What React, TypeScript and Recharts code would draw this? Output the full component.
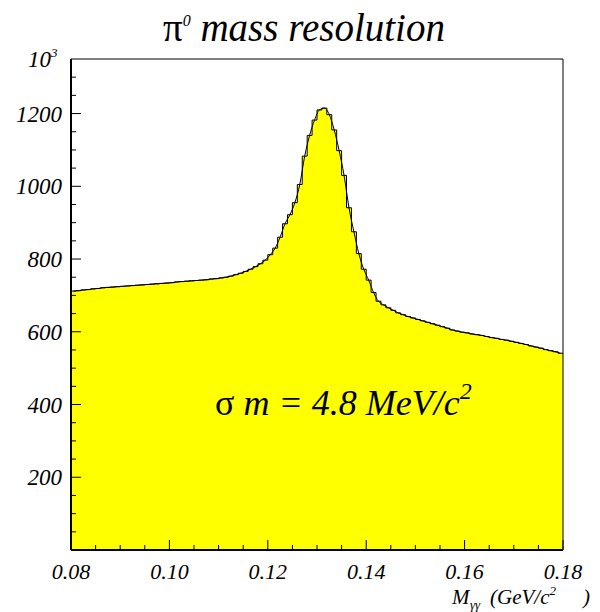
import { Area, ComposedChart, Line, XAxis, YAxis } from "recharts";

// counts per 1 MeV bin, 0.080 .. 0.180 GeV
const counts = [
  712, 713, 715, 716, 718, 719, 721, 722, 723, 724,
  725, 726, 727, 728, 729, 730, 731, 732, 733, 734,
  735, 737, 738, 739, 740, 741, 742, 743, 745, 746,
  748, 750, 753, 757, 761, 766, 772, 779, 787, 797,
  812, 830, 860, 897, 922, 955, 1005, 1083, 1140, 1182,
  1210, 1215, 1197, 1155, 1098, 1030, 941, 875, 815, 772,
  742, 708, 684, 674, 666, 659, 652, 647, 642, 638,
  634, 630, 626, 622, 618, 614, 610, 605, 602, 599,
  597, 594, 592, 590, 587, 584, 582, 579, 577, 574,
  571, 568, 565, 561, 558, 555, 551, 548, 545, 541,
];

const xMin = 0.08;
const xMax = 0.18;
const binWidth = 0.001;

const xTicks = [
  0.08, 0.085, 0.09, 0.095, 0.1, 0.105, 0.11, 0.115, 0.12, 0.125, 0.13,
  0.135, 0.14, 0.145, 0.15, 0.155, 0.16, 0.165, 0.17, 0.175, 0.18,
];
const xLabels = ["0.08", "0.10", "0.12", "0.14", "0.16", "0.18"];

const yTicks = [
  0, 50, 100, 150, 200, 250, 300, 350, 400, 450, 500, 550, 600, 650, 700,
  750, 800, 850, 900, 950, 1000, 1050, 1100, 1150, 1200, 1250, 1300,
];
const yLabels = [200, 400, 600, 800, 1000, 1200];
const yMax = 1350;

// histogram edges for the step area, bin centres for the fit line
const histData = [
  ...counts.map((c, i) => ({ x: +(xMin + i * binWidth).toFixed(4), count: c })),
  { x: xMax, count: counts[counts.length - 1] },
];
const fitData = counts.map((c, i) => ({ x: +(xMin + (i + 0.5) * binWidth).toFixed(4), fit: c }));

const W = 600;
const H = 612;
const plotLeft = 71;
const plotRight = 563;
const plotTop = 59;
const plotBottom = 550;
const font = "Liberation Serif, DejaVu Serif, Times New Roman, serif";
const serif = { fontFamily: font };

function XTick(props: any) {
  const { x, y, payload } = props;
  const milli = Math.round(payload.value * 1000);
  const major = milli % 20 === 0;
  const label = (milli / 1000).toFixed(2);
  return (
    <g>
      <line x1={x} x2={x} y1={y} y2={y - (major ? 10 : 5)} stroke="#000" strokeWidth={1} />
      {major && xLabels.includes(label) && (
        <text x={x} y={y + 29} textAnchor="middle" style={serif} fontStyle="italic" fontSize={22} fill="#000">
          {label}
        </text>
      )}
    </g>
  );
}

function YTick(props: any) {
  const { x, y, payload } = props;
  const v = payload.value;
  const major = yLabels.includes(v);
  return (
    <g>
      <line x1={x} x2={x + (major ? 10 : 5)} y1={y} y2={y} stroke="#000" strokeWidth={1} />
      {major && (
        <text x={x - 9} y={y + 8} textAnchor="end" style={serif} fontStyle="italic" fontSize={23} fill="#000">
          {v}
        </text>
      )}
    </g>
  );
}

export default function App() {
  return (
    <div style={{ position: "absolute", left: 0, top: 0, width: W, height: H, background: "#fff" }}>
      <ComposedChart
        width={W}
        height={H}
        data={histData}
        margin={{ top: plotTop, right: W - plotRight, bottom: H - plotBottom - 30, left: 0 }}
      >
        <XAxis
          dataKey="x"
          type="number"
          domain={[xMin, xMax]}
          ticks={xTicks}
          interval={0}
          allowDataOverflow
          height={30}
          tickSize={0}
          tickMargin={0}
          tickLine={false}
          axisLine={{ stroke: "#000", strokeWidth: 2 }}
          tick={<XTick />}
        />
        <YAxis
          type="number"
          domain={[0, yMax]}
          ticks={yTicks}
          interval={0}
          allowDataOverflow
          width={plotLeft}
          tickSize={0}
          tickMargin={0}
          tickLine={false}
          axisLine={{ stroke: "#000", strokeWidth: 2 }}
          tick={<YTick />}
        />
        <Area
          type="stepAfter"
          dataKey="count"
          fill="#ffff00"
          fillOpacity={1}
          stroke="#000"
          strokeWidth={1}
          isAnimationActive={false}
        />
        <Line
          data={fitData}
          type="monotone"
          dataKey="fit"
          stroke="#000"
          strokeWidth={1}
          dot={false}
          isAnimationActive={false}
        />
      </ComposedChart>
      <svg
        width={W}
        height={H}
        style={{ position: "absolute", left: 0, top: 0, pointerEvents: "none", fontFamily: font }}
      >
        <line x1={plotLeft} x2={plotRight} y1={plotTop} y2={plotTop} stroke="#000" strokeWidth={1} />
        <line x1={plotRight} x2={plotRight} y1={plotTop} y2={plotBottom} stroke="#000" strokeWidth={1} />
        <text x={163} y={41} fontSize={39} fill="#000">
          <tspan>π</tspan>
          <tspan fontStyle="italic" fontSize={16} dy={-15}>0</tspan>
          <tspan fontStyle="italic" dy={15}> mass resolution</tspan>
        </text>
        <text x={28} y={67} fontStyle="italic" fontSize={23} fill="#000">
          10
          <tspan fontSize={13} dy={-10}>3</tspan>
        </text>
        <text x={215} y={415} fontSize={36} fill="#000">
          <tspan>σ</tspan>
          <tspan fontStyle="italic"> m = 4.8 MeV/c</tspan>
          <tspan fontStyle="italic" fontSize={24} dy={-16}>2</tspan>
        </text>
        <text y={604} fontStyle="italic" fontSize={21} fill="#000">
          <tspan x={452}>M</tspan>
          <tspan x={470} fontSize={13} dy={5}>γγ</tspan>
          <tspan x={490} dy={-5}>(GeV/c</tspan>
          <tspan fontSize={13} dy={-9}>2</tspan>
          <tspan x={583} dy={9}>)</tspan>
        </text>
      </svg>
    </div>
  );
}
